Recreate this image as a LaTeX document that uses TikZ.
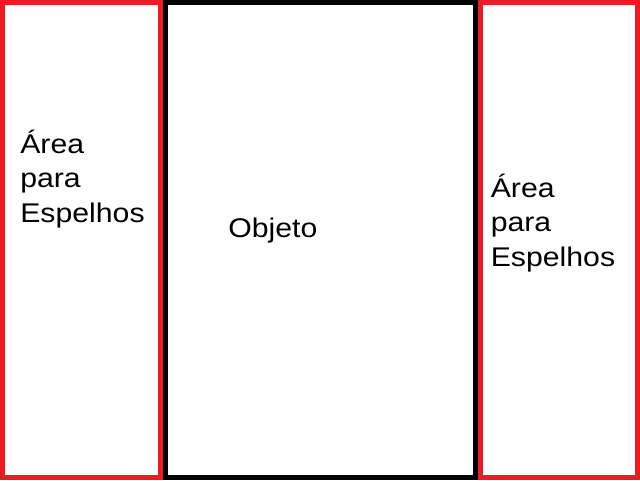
\documentclass[tikz,border=0pt]{standalone}
\usepackage{fontspec}
\setmainfont{Liberation Sans}[FakeStretch=1.12]
\definecolor{paintred}{HTML}{ED1C24}
\begin{document}
\begin{tikzpicture}[x=0.75pt,y=-0.75pt,
  redpanel/.style={draw=paintred,line width=3.75pt},
  blackpanel/.style={draw=black,line width=3.75pt},
  label/.style={inner sep=0pt,anchor=base west,align=left,
    font=\fontsize{20.25pt}{25.9pt}\selectfont}]
\useasboundingbox (0,0) rectangle (640,480);
\fill[white] (0,0) rectangle (640,480);
\draw[redpanel] (2.5,2.5) rectangle (160.5,477.5);
\draw[blackpanel] (165.5,2.5) rectangle (475.5,477.5);
\draw[redpanel] (480.5,2.5) rectangle (637.5,477.5);
\node[label] (left) at (20,222.5) {Área\\para\\Espelhos};
\node[label] (obj) at (228,237.3) {Objeto};
\node[label] (right) at (490.5,266.5) {Área\\para\\Espelhos};
\end{tikzpicture}
\end{document}
